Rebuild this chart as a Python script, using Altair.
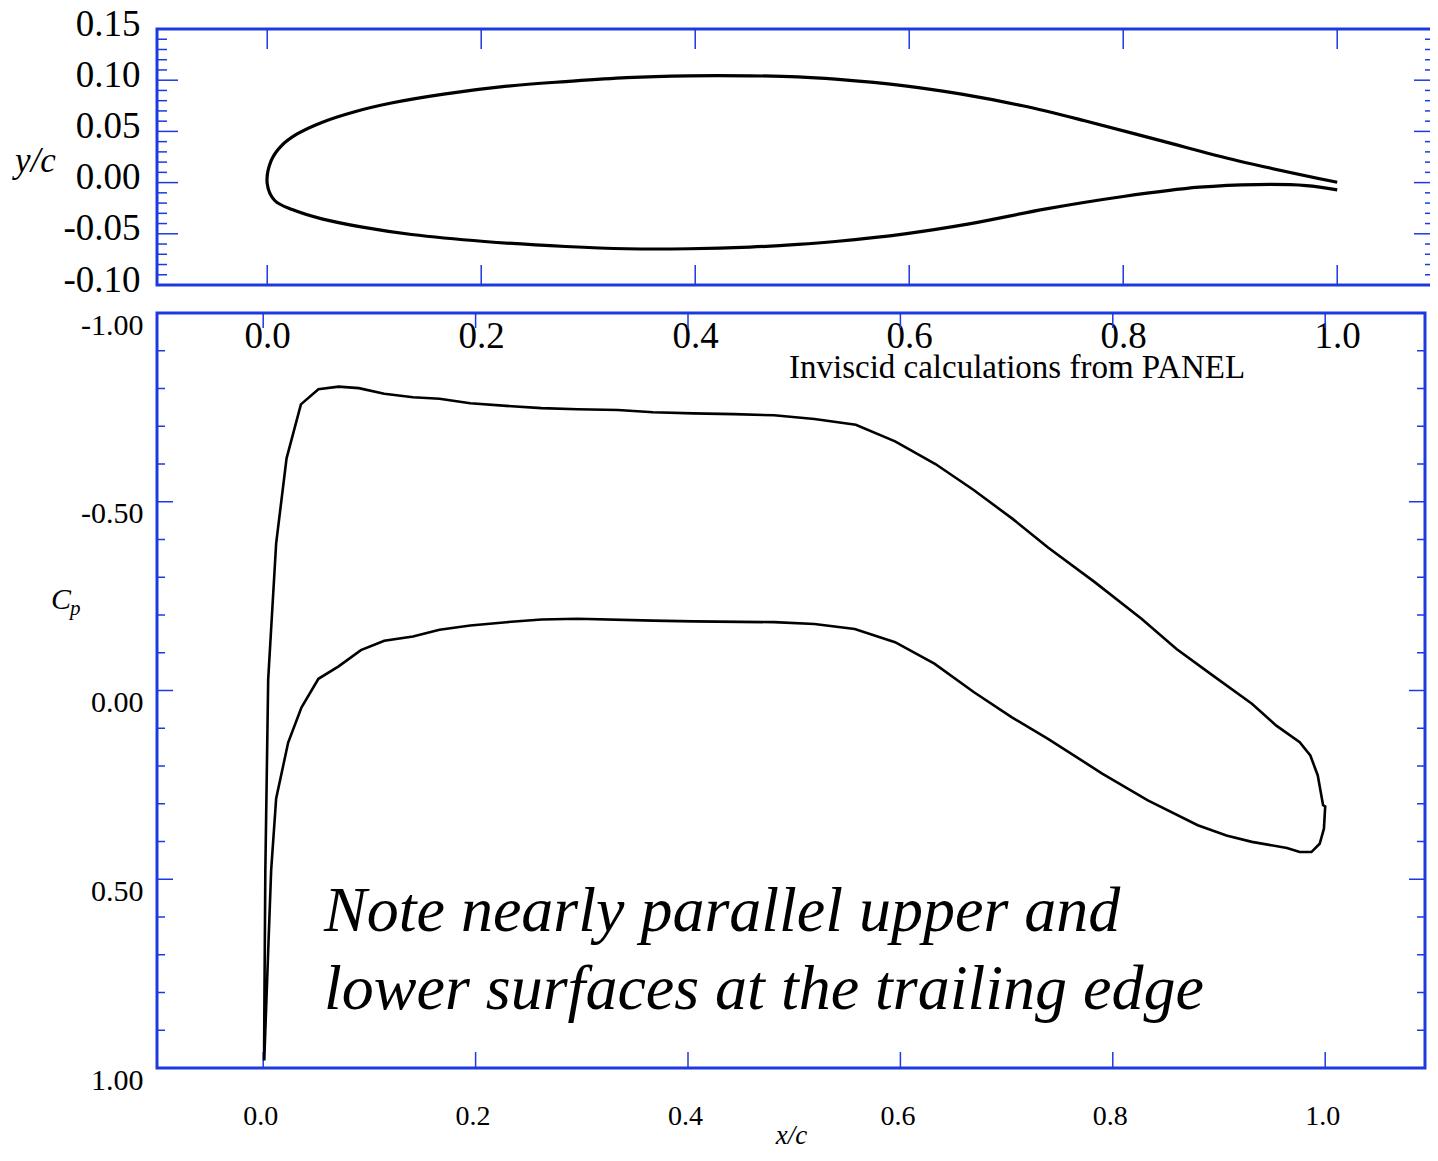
import altair as alt
import pandas as pd

BLUE = "#1c3ae0"
FONT = "Liberation Serif"

# ---------------- data ----------------
# Airfoil geometry (x/c, y/c), leading edge -> trailing edge
upper_x = [0.0, 0.0037, 0.013, 0.028, 0.051, 0.081, 0.116, 0.165, 0.222, 0.279, 0.336,
           0.394, 0.451, 0.496, 0.531, 0.596, 0.649, 0.706, 0.764, 0.835, 0.907, 1.0]
upper_y = [-0.001, 0.0214, 0.0357, 0.0475, 0.0588, 0.069, 0.0777, 0.0864, 0.0939, 0.0987, 0.1026,
           0.1043, 0.1043, 0.1033, 0.101, 0.0945, 0.0864, 0.075, 0.0604, 0.041, 0.0214, 0.0003]
lower_x = [0.0, 0.007, 0.024, 0.051, 0.089, 0.135, 0.203, 0.279, 0.336, 0.394, 0.451,
           0.496, 0.531, 0.596, 0.656, 0.728, 0.80, 0.871, 0.925, 0.971, 1.0]
lower_y = [-0.001, -0.0175, -0.0266, -0.0354, -0.0435, -0.0507, -0.0575, -0.0624, -0.0646, -0.0646, -0.063,
           -0.0604, -0.0575, -0.050, -0.0403, -0.0257, -0.0136, -0.0045, -0.0019, -0.0029, -0.0071]

# Pressure coefficient: suction side (stagnation -> TE), then pressure side (TE -> stagnation)
cp_upper_x = [0.0008, 0.0012, 0.002, 0.0047, 0.0122, 0.022, 0.0355, 0.052, 0.071, 0.09, 0.114,
              0.141, 0.166, 0.195, 0.229, 0.262, 0.296, 0.334, 0.367, 0.405, 0.443, 0.481,
              0.519, 0.558, 0.595, 0.633, 0.669, 0.706, 0.739, 0.783, 0.827, 0.860, 0.894,
              0.931, 0.954, 0.976, 0.986, 0.993, 0.998, 1.0]
cp_upper = [0.98, 0.80, 0.48, -0.03, -0.39, -0.615, -0.758, -0.798, -0.805, -0.801, -0.786,
            -0.777, -0.773, -0.761, -0.754, -0.748, -0.745, -0.743, -0.737, -0.734, -0.732, -0.729,
            -0.719, -0.704, -0.660, -0.600, -0.531, -0.454, -0.379, -0.287, -0.190, -0.110, -0.040,
            0.035, 0.093, 0.137, 0.172, 0.225, 0.304, 0.307]
cp_lower_x = [0.9988, 0.9948, 0.987, 0.976, 0.964, 0.931, 0.907, 0.880, 0.833, 0.790, 0.739,
              0.705, 0.669, 0.632, 0.595, 0.557, 0.519, 0.481, 0.405, 0.367, 0.296, 0.262,
              0.229, 0.195, 0.166, 0.141, 0.114, 0.092, 0.071, 0.052, 0.036, 0.0235, 0.0122,
              0.0075, 0.0047, 0.002, 0.001]
cp_lower = [0.366, 0.406, 0.428, 0.428, 0.417, 0.401, 0.384, 0.357, 0.291, 0.220, 0.128,
            0.071, 0.004, -0.071, -0.128, -0.163, -0.176, -0.181, -0.183, -0.185, -0.190, -0.188,
            -0.181, -0.172, -0.161, -0.143, -0.132, -0.107, -0.064, -0.031, 0.045, 0.138, 0.286,
            0.476, 0.69, 0.90, 0.98]

# Axis ticks
top_x_ticks = [0.0, 0.2, 0.4, 0.6, 0.8, 1.0]
top_y_ticks = [-0.10, -0.05, 0.0, 0.05, 0.10, 0.15]
top_y_minor = [round(-0.10 + 0.01 * i, 2) for i in range(26) if i % 5]
bot_x_ticks = [0.0, 0.2, 0.4, 0.6, 0.8, 1.0]
bot_y_ticks = [-1.0, -0.5, 0.0, 0.5, 1.0]
bot_y_minor = [round(-1.0 + 0.1 * i, 1) for i in range(21) if i % 5]

# Texts
annot_panel = ["Inviscid calculations from PANEL"]
annot_note = ["Note nearly parallel upper and", "lower surfaces at the trailing edge"]
cp_title = ["C", "p"]

# ---------------- sizes ----------------
TW, TH = 1278, 256
BW, BH = 1268, 755
TOP_PX_PER_UNIT = 1070.0
BOT_PX_PER_UNIT = 1062.0

# ---------------- top panel: airfoil ----------------
af_x = upper_x[::-1] + lower_x[1:]
af_y = upper_y[::-1] + lower_y[1:]
af = pd.DataFrame({"x": af_x, "y": af_y, "i": list(range(len(af_x)))})

tx_scale = alt.Scale(domain=[-0.103, -0.103 + TW / TOP_PX_PER_UNIT], nice=False, zero=False)
ty_scale = alt.Scale(domain=[-0.10, 0.15], nice=False, zero=False)

tx_axis = alt.Axis(values=top_x_ticks, format=".1f", labelFontSize=37, labelPadding=33,
                   title=None, labelFlush=False, labelOverlap=False)
ty_axis = alt.Axis(values=top_y_ticks, format=".2f", labelFontSize=37, labelPadding=17,
                   labelOffset=-5, labelFlush=False, labelOverlap=False,
                   labelExpr="replace(datum.label, '\u2212', '-')",
                   title="y/c", titleAngle=0, titleFont=FONT, titleFontStyle="italic",
                   titleFontWeight="normal", titleFontSize=35, titleAlign="center",
                   titleBaseline="middle", titleX=-122, titleY=131)

top_line = alt.Chart(af).mark_line(color="black", strokeWidth=3.2, interpolate="catmull-rom").encode(
    x=alt.X("x:Q", scale=tx_scale, axis=tx_axis),
    y=alt.Y("y:Q", scale=ty_scale, axis=ty_axis),
    order="i:Q",
)


def y_ticks(vals, length, scale, axis, width, side):
    df = pd.DataFrame({"v": vals})
    if side == "left":
        x0, x1 = 0, length
    else:
        x0, x1 = width - length, width
    return alt.Chart(df).mark_rule(color=BLUE, strokeWidth=1.5).encode(
        y=alt.Y("v:Q", scale=scale, axis=axis), x=alt.value(x0), x2=alt.value(x1))


def x_ticks(vals, length, scale, axis, height, side):
    df = pd.DataFrame({"v": vals})
    if side == "top":
        y0, y1 = 0, length
    else:
        y0, y1 = height - length, height
    return alt.Chart(df).mark_rule(color=BLUE, strokeWidth=1.5).encode(
        x=alt.X("v:Q", scale=scale, axis=axis), y=alt.value(y0), y2=alt.value(y1))


def label(text, size, x, y, italic=False):
    kw = dict(font=FONT, fontSize=size, align="left", baseline="alphabetic", color="black")
    if italic:
        kw["fontStyle"] = "italic"
    return alt.Chart(pd.DataFrame({"t": [text]})).mark_text(**kw).encode(
        text="t:N", x=alt.value(x), y=alt.value(y))


top = alt.layer(
    y_ticks(top_y_ticks, 21, ty_scale, ty_axis, TW, "left"),
    y_ticks(top_y_minor, 10, ty_scale, ty_axis, TW, "left"),
    y_ticks(top_y_ticks, 21, ty_scale, ty_axis, TW, "right"),
    y_ticks(top_y_minor, 10, ty_scale, ty_axis, TW, "right"),
    x_ticks(top_x_ticks, 20, tx_scale, tx_axis, TH, "top"),
    x_ticks(top_x_ticks, 20, tx_scale, tx_axis, TH, "bottom"),
    top_line,
).properties(width=TW, height=TH)

# ---------------- bottom panel: Cp ----------------
cp = pd.DataFrame({
    "x": cp_upper_x + cp_lower_x,
    "cp": cp_upper + cp_lower,
    "i": list(range(len(cp_upper_x) + len(cp_lower_x))),
})

bx_scale = alt.Scale(domain=[-0.1, -0.1 + BW / BOT_PX_PER_UNIT], nice=False, zero=False)
by_scale = alt.Scale(domain=[-1.0, 1.0], reverse=True, nice=False, zero=False)

bx_axis = alt.Axis(values=bot_x_ticks, format=".1f", labelFontSize=28, labelPadding=34,
                   labelOffset=-3, labelFlush=False, labelOverlap=False,
                   title="x/c", titleFont=FONT, titleFontStyle="italic", titleFontWeight="normal",
                   titleFontSize=27, titleBaseline="alphabetic", titleY=75)
by_axis = alt.Axis(values=bot_y_ticks, format=".2f", labelFontSize=30, labelPadding=14,
                   labelOffset=12, labelFlush=False, labelOverlap=False,
                   labelExpr="replace(datum.label, '\u2212', '-')", title=None)

cp_line = alt.Chart(cp).mark_line(color="black", strokeWidth=2.6).encode(
    x=alt.X("x:Q", scale=bx_scale, axis=bx_axis),
    y=alt.Y("cp:Q", scale=by_scale, axis=by_axis),
    order="i:Q",
)

bottom = alt.layer(
    y_ticks(bot_y_ticks, 16, by_scale, by_axis, BW, "left"),
    y_ticks(bot_y_minor, 8, by_scale, by_axis, BW, "left"),
    y_ticks(bot_y_ticks, 16, by_scale, by_axis, BW, "right"),
    y_ticks(bot_y_minor, 8, by_scale, by_axis, BW, "right"),
    x_ticks(bot_x_ticks, 15, bx_scale, bx_axis, BH, "top"),
    x_ticks(bot_x_ticks, 16, bx_scale, bx_axis, BH, "bottom"),
    cp_line,
    label(annot_panel[0], 33, 632, 65),
    label(annot_note[0], 64, 167, 618, italic=True),
    label(annot_note[1], 64, 167, 696, italic=True),
    label(cp_title[0], 30, -106, 296, italic=True),
    label(cp_title[1], 21, -87, 302, italic=True),
).properties(width=BW, height=BH)

chart = alt.vconcat(top, bottom, spacing=28, bounds="flush").properties(
    padding={"left": 5, "top": -5, "right": -8, "bottom": 0},
    background="white",
).configure_view(
    stroke=BLUE, strokeWidth=3
).configure_axis(
    grid=False, domain=False, ticks=False, tickSize=0,
    labelFont=FONT, labelColor="black", titleColor="black"
)

chart.save("out.html", embed_options={"renderer": "svg", "actions": False})
